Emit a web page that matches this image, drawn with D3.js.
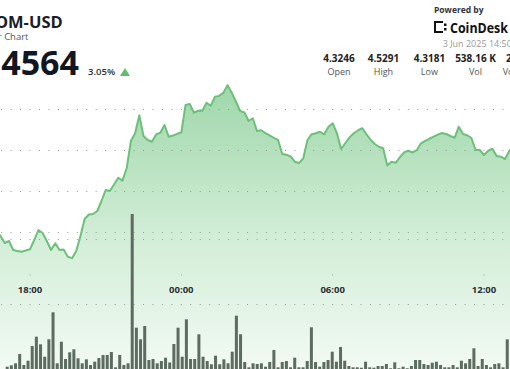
<!DOCTYPE html>
<html>
<head>
<meta charset="utf-8">
<script src="https://cdn.jsdelivr.net/npm/d3@7"></script>
<style>
  body { margin: 0; background: #fff; overflow: hidden; }
  svg { display: block; font-family: "Open Sans", "Noto Sans", sans-serif; }
</style>
</head>
<body>
<div id="chart"></div>
<script>
// price every 10 minutes starting 2 Jun 16:40
var priceStart = new Date(2025, 5, 2, 16, 40);
var prices = [
  4.3500, 4.3451, 4.3366, 4.3390, 4.3280, 4.3268, 4.3260, 4.3274, 4.3289, 4.3402,
  4.3524, 4.3488, 4.3390, 4.3280, 4.3362, 4.3280, 4.3287, 4.3199, 4.3181, 4.3268,
  4.3451, 4.3659, 4.3713, 4.3720, 4.3756, 4.3878, 4.4012, 4.4000, 4.4079, 4.4162,
  4.4126, 4.4280, 4.4610, 4.4704, 4.4923, 4.4671, 4.4622, 4.4601, 4.4689, 4.4711,
  4.4805, 4.4662, 4.4676, 4.4696, 4.4716, 4.5049, 4.5061, 4.4955, 4.4979, 4.4979,
  4.5077, 4.5040, 4.5150, 4.5160, 4.5199, 4.5291, 4.5199, 4.5088, 4.4976, 4.4959,
  4.4854, 4.4887, 4.4732, 4.4741, 4.4705, 4.4677, 4.4649, 4.4624, 4.4451, 4.4443,
  4.4421, 4.4356, 4.4341, 4.4396, 4.4622, 4.4693, 4.4704, 4.4722, 4.4691, 4.4784,
  4.4826, 4.4707, 4.4512, 4.4582, 4.4654, 4.4704, 4.4738, 4.4766, 4.4695, 4.4626,
  4.4573, 4.4540, 4.4521, 4.4311, 4.4357, 4.4344, 4.4412, 4.4472, 4.4491, 4.4470,
  4.4498, 4.4582, 4.4610, 4.4637, 4.4662, 4.4687, 4.4707, 4.4695, 4.4671, 4.4649,
  4.4784, 4.4695, 4.4680, 4.4646, 4.4500, 4.4500, 4.4439, 4.4491, 4.4515, 4.4427,
  4.4418, 4.4390, 4.4488, 4.4549, 4.4564
];

// volume (K), one bar per interval, visible part of the chart
var volumes = [
  0.71, 1.14, 1.75, 4.62, 1.23, 2.55, 7.08, 9.94, 7.60, 3.78,
  9.14, 17.45, 1.75, 8.40, 3.08, 5.14, 6.06, 3.29, 1.75, 2.98,
  1.23, 2.25, 3.38, 4.31, 4.31, 5.23, 0.52, 4.31, 1.23, 1.75,
  47.69, 12.71, 9.14, 13.23, 2.77, 3.08, 1.75, 2.46, 3.48, 2.00,
  7.69, 12.71, 3.78, 15.29, 3.08, 3.08, 10.68, 3.78, 2.46, 1.45,
  4.09, 1.45, 2.98, 1.75, 5.32, 16.40, 10.68, 2.15, 0.52, 1.75,
  1.54, 1.75, 0.71, 2.15, 5.85, 0.52, 2.15, 2.46, 0.52, 3.48,
  0.52, 0.52, 2.46, 12.83, 2.15, 0.71, 2.15, 2.77, 5.32, 2.25,
  6.77, 2.55, 0.92, 0.52, 0.52, 0.40, 2.25, 0.52, 0.40, 0.92,
  0.92, 1.54, 0.22, 2.06, 0.22, 0.71, 0.22, 0.92, 2.77, 2.77,
  1.54, 1.23, 1.94, 2.25, 1.23, 0.52, 0.52, 1.23, 0.52, 2.55,
  1.75, 3.08, 6.37, 0.92, 3.08, 1.23, 0.52, 1.54, 1.75, 0.52,
  9.14
];

var timeTicks = [new Date(2025, 5, 2, 18), new Date(2025, 5, 3, 0), new Date(2025, 5, 3, 6), new Date(2025, 5, 3, 12)];
var priceGrid = [4.35, 4.40, 4.45, 4.50];
var volGrid = [20, 40];

var statValues = ["4.3246", "4.5291", "4.3181", "538.16 K", "2.37 M"];
var statLabels = ["Open", "High", "Low", "Vol", "Vol (USD)"];

var width = 510,
  height = 369;

var svg = d3.select("#chart")
  .append("svg")
  .attr("width", width)
  .attr("height", height);

var x = d3.scaleTime()
  .domain([timeTicks[0], timeTicks[3]])
  .range([30, 484]);

var y = d3.scaleLinear()
  .domain([4.35, 4.50])
  .range([232, 109]);

var yVol = d3.scaleLinear()
  .domain([0, 40])
  .range([369, 239]);

var xVol = d3.scaleBand()
  .domain(d3.range(volumes.length))
  .range([5.12, 5.12 + volumes.length * 4.167])
  .paddingInner(0.28)
  .paddingOuter(0.14);

var priceData = prices.map(function(p, i) {
  return { t: d3.timeMinute.offset(priceStart, i * 10), v: p };
});

var defs = svg.append("defs");
var grad = defs.append("linearGradient")
  .attr("id", "areaGrad")
  .attr("gradientUnits", "userSpaceOnUse")
  .attr("x1", 0).attr("y1", 85)
  .attr("x2", 0).attr("y2", 369);
grad.append("stop").attr("offset", "0%").attr("stop-color", "#9fd7aa");
grad.append("stop").attr("offset", "55%").attr("stop-color", "#d3eed8");
grad.append("stop").attr("offset", "100%").attr("stop-color", "#f2faf3");

// area + line
var area = d3.area()
  .x(function(d) { return x(d.t) })
  .y0(height)
  .y1(function(d) { return y(d.v) });

var line = d3.line()
  .x(function(d) { return x(d.t) })
  .y(function(d) { return y(d.v) });

svg.append("path")
  .datum(priceData)
  .attr("d", area)
  .attr("fill", "url(#areaGrad)");

// dotted grid lines
var dash = (x(timeTicks[1]) - x(timeTicks[0])) / 16;
var gridStart = x(timeTicks[0]) - dash * 4 - 0.5;

svg.selectAll(".pgrid")
  .data(priceGrid)
  .enter().append("line")
  .attr("class", "pgrid")
  .attr("x1", gridStart).attr("x2", width + 10)
  .attr("y1", function(d) { return Math.round(y(d)) + 0.5 })
  .attr("y2", function(d) { return Math.round(y(d)) + 0.5 })
  .attr("stroke", "#9a9a9a")
  .attr("stroke-dasharray", "1," + (dash - 1));

svg.selectAll(".vgrid")
  .data(volGrid)
  .enter().append("line")
  .attr("class", "vgrid")
  .attr("x1", gridStart).attr("x2", width + 10)
  .attr("y1", function(d) { return Math.round(yVol(d)) + 0.5 })
  .attr("y2", function(d) { return Math.round(yVol(d)) + 0.5 })
  .attr("stroke", "#9a9a9a")
  .attr("stroke-dasharray", "1," + (dash - 1));

svg.append("path")
  .datum(priceData)
  .attr("d", line)
  .attr("fill", "none")
  .attr("stroke", "#6cc07a")
  .attr("stroke-width", 2)
  .attr("stroke-linejoin", "round");

// volume bars
svg.selectAll(".bar")
  .data(volumes)
  .enter().append("rect")
  .attr("class", "bar")
  .attr("x", function(d, i) { return xVol(i) })
  .attr("width", xVol.bandwidth())
  .attr("y", function(d) { return yVol(d) })
  .attr("height", function(d) { return height - yVol(d) })
  .attr("fill", "#5d6b60");

// x axis ticks and labels
svg.selectAll(".tdot")
  .data(timeTicks)
  .enter().append("rect")
  .attr("class", "tdot")
  .attr("x", function(d) { return x(d) - 0.5 })
  .attr("y", 274.5)
  .attr("width", 1).attr("height", 1)
  .attr("fill", "#999");

var fmt = d3.timeFormat("%H:%M");
svg.selectAll(".tlab")
  .data(timeTicks)
  .enter().append("text")
  .attr("class", "tlab")
  .attr("x", function(d) { return x(d) })
  .attr("y", 292.5)
  .attr("text-anchor", "middle")
  .attr("font-size", 9.5)
  .attr("font-weight", 700)
  .attr("fill", "#2b2f36")
  .text(function(d) { return fmt(d) });

// header left
svg.append("text")
  .attr("x", 62.7).attr("y", 28.3)
  .attr("text-anchor", "end")
  .attr("font-size", 16.5).attr("font-weight", 700)
  .attr("fill", "#1a1e27")
  .text("ATOM-USD");

svg.append("text")
  .attr("x", 28.5).attr("y", 39.5)
  .attr("text-anchor", "end")
  .attr("font-size", 9.5)
  .attr("fill", "#555")
  .text("24 Hour Chart");

svg.append("text")
  .attr("x", 79).attr("y", 75)
  .attr("text-anchor", "end")
  .attr("font-size", 34).attr("font-weight", 700)
  .attr("fill", "#111622")
  .text("4.4564");

svg.append("text")
  .attr("x", 88).attr("y", 75)
  .attr("font-size", 9.5).attr("font-weight", 600)
  .attr("fill", "#333")
  .text("3.05%");

svg.append("path")
  .attr("d", "M120,76L125,68L130,76Z")
  .attr("fill", "#5fbf6d");

// header right
svg.append("text")
  .attr("x", 434).attr("y", 13)
  .attr("font-size", 8.5).attr("font-weight", 700)
  .attr("fill", "#333")
  .text("Powered by");

var logo = svg.append("g").attr("transform", "translate(434,21)");
logo.append("path")
  .attr("d", "M0,0h9v2h-7v8h7v2h-9z")
  .attr("fill", "#111");
logo.append("rect").attr("x", 10).attr("y", 2.5).attr("width", 2.5).attr("height", 2.5).attr("fill", "#111");
logo.append("rect").attr("x", 10).attr("y", 7).attr("width", 2.5).attr("height", 2.5).attr("fill", "#111");

svg.append("text")
  .attr("x", 450).attr("y", 33)
  .attr("font-size", 14).attr("font-weight", 700)
  .attr("fill", "#111")
  .attr("textLength", 58)
  .attr("lengthAdjust", "spacingAndGlyphs")
  .text("CoinDesk");

svg.append("text")
  .attr("x", 442.7).attr("y", 46.5)
  .attr("font-size", 9)
  .attr("fill", "#9a9a9a")
  .text("3 Jun 2025 14:50");

var statX = [339, 383.5, 429.4, 475.5, 522];
svg.selectAll(".sval")
  .data(statValues)
  .enter().append("text")
  .attr("class", "sval")
  .attr("x", function(d, i) { return statX[i] })
  .attr("y", 62)
  .attr("text-anchor", "middle")
  .attr("font-size", 10).attr("font-weight", 700)
  .attr("fill", "#222")
  .text(function(d) { return d });

svg.selectAll(".slab")
  .data(statLabels)
  .enter().append("text")
  .attr("class", "slab")
  .attr("x", function(d, i) { return statX[i] })
  .attr("y", 75)
  .attr("text-anchor", "middle")
  .attr("font-size", 9)
  .attr("fill", "#555")
  .text(function(d) { return d });
</script>
</body>
</html>
